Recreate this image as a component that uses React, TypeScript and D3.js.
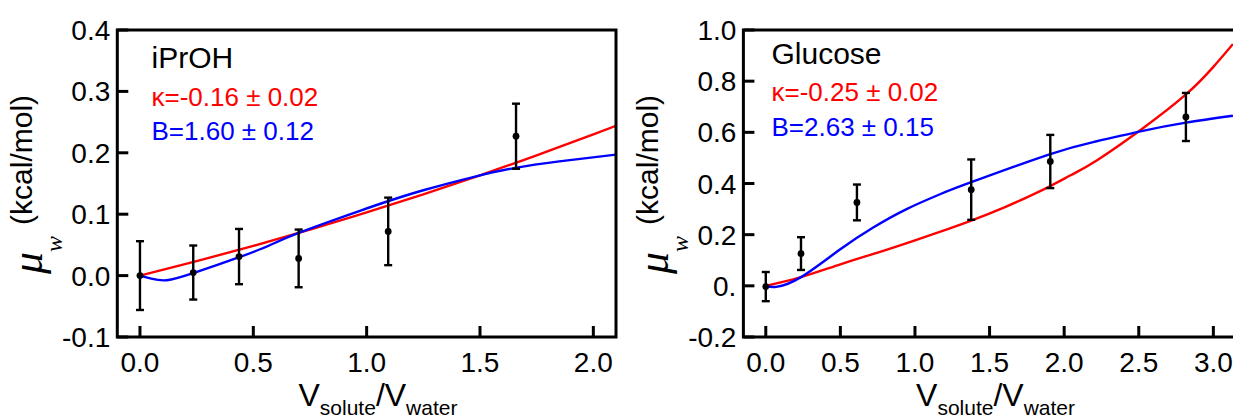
import React, { useEffect, useRef } from 'react';
import * as d3 from 'd3';

// ---- iPrOH panel ----
const iprohPtX = [0, 0.235, 0.437, 0.70, 1.095, 1.659];
const iprohPtY = [0.0, 0.005, 0.031, 0.028, 0.072, 0.227];
const iprohErr = [0.056, 0.044, 0.045, 0.047, 0.055, 0.053];

const iprohRedX = [0, 0.25, 0.5, 0.75, 1.0, 1.25, 1.5, 1.75, 2.0, 2.1];
const iprohRedY = [0, 0.0235, 0.0484, 0.0749, 0.103, 0.1324, 0.1634, 0.1959, 0.230, 0.244];

const iprohBlueX = [0, 0.05, 0.118, 0.238, 0.438, 0.57, 0.70, 0.97, 1.097, 1.25, 1.47, 1.656, 1.85, 2.1];
const iprohBlueY = [0, -0.005, -0.0076, 0.0043, 0.030, 0.049, 0.0695, 0.1055, 0.1215, 0.139, 0.1605, 0.1755, 0.186, 0.197];

const iprohXTicks = [0, 0.5, 1.0, 1.5, 2.0];
const iprohYTicks = [-0.1, 0.0, 0.1, 0.2, 0.3, 0.4];

// ---- Glucose panel ----
const glucPtX = [0, 0.236, 0.611, 1.377, 1.907, 2.816];
const glucPtY = [-0.003, 0.126, 0.326, 0.376, 0.486, 0.660];
const glucErr = [0.057, 0.064, 0.070, 0.118, 0.104, 0.094];

const glucRedX = [0, 0.236, 0.5, 0.75, 1.0, 1.2, 1.377, 1.6, 1.75, 1.907, 2.05, 2.218, 2.519, 2.816, 3.0, 3.131];
const glucRedY = [0, 0.034, 0.084, 0.130, 0.178, 0.218, 0.255, 0.307, 0.346, 0.390, 0.434, 0.490, 0.612, 0.748, 0.856, 0.945];

const glucBlueX = [0, 0.07, 0.236, 0.497, 0.72, 0.944, 1.168, 1.377, 1.907, 2.218, 2.519, 2.816, 3.131];
const glucBlueY = [0, -0.004, 0.034, 0.142, 0.228, 0.300, 0.358, 0.405, 0.515, 0.565, 0.605, 0.638, 0.665];

const glucXTicks = [0, 0.5, 1.0, 1.5, 2.0, 2.5, 3.0];
const glucYTicks = [-0.2, 0.0, 0.2, 0.4, 0.6, 0.8, 1.0];

const SANS = "'Liberation Sans', Arial, sans-serif";
const SERIF = "'Liberation Serif', 'Times New Roman', serif";

const fmt1 = t => d3.format('.1f')(t).replace('\u2212', '-');

function drawPanel(svg, o) {
  const x = d3.scaleLinear().domain(o.xDomain).range(o.xRange);
  const y = d3.scaleLinear().domain(o.yDomain).range([337, 30]);
  const [x0, x1] = o.xRange;
  const g = svg.append('g');

  g.append('clipPath').attr('id', o.id + '-clip')
    .append('rect')
    .attr('x', x0).attr('y', 30)
    .attr('width', x1 - x0).attr('height', 307);

  const line = d3.line()
    .x(d => x(d[0]))
    .y(d => y(d[1]))
    .curve(d3.curveNatural);

  const curves = [
    { xs: o.redX, ys: o.redY, color: '#ff0000' },
    { xs: o.blueX, ys: o.blueY, color: '#0000ff' },
  ];
  curves.forEach(c => {
    g.append('path')
      .datum(c.xs.map((v, i) => [v, c.ys[i]]))
      .attr('clip-path', `url(#${o.id}-clip)`)
      .attr('fill', 'none')
      .attr('stroke', c.color)
      .attr('stroke-width', 2.4)
      .attr('d', line);
  });

  // error bars + points
  const pts = o.ptX.map((v, i) => ({ x: v, y: o.ptY[i], e: o.err[i] }));
  const eb = g.append('g').attr('stroke', '#000').attr('stroke-width', 2.4);
  pts.forEach(p => {
    eb.append('line')
      .attr('x1', x(p.x)).attr('x2', x(p.x))
      .attr('y1', y(p.y - p.e)).attr('y2', y(p.y + p.e));
    [p.y - p.e, p.y + p.e].forEach(v => {
      eb.append('line')
        .attr('x1', x(p.x) - 4).attr('x2', x(p.x) + 4)
        .attr('y1', y(v)).attr('y2', y(v));
    });
  });
  g.selectAll('circle.pt')
    .data(pts)
    .enter()
    .append('circle')
    .attr('class', 'pt')
    .attr('cx', d => x(d.x))
    .attr('cy', d => y(d.y))
    .attr('r', 3.4)
    .attr('fill', '#000');

  // frame
  g.append('rect')
    .attr('x', x0).attr('y', 30)
    .attr('width', x1 - x0).attr('height', 307)
    .attr('fill', 'none')
    .attr('stroke', '#000')
    .attr('stroke-width', 3);

  // ticks (inward)
  o.yTicks.forEach(t => {
    g.append('line')
      .attr('x1', x0).attr('x2', x0 + 11)
      .attr('y1', y(t)).attr('y2', y(t))
      .attr('stroke', '#000').attr('stroke-width', 3);
    g.append('text')
      .attr('x', x0 - 7)
      .attr('y', y(t))
      .attr('dy', '0.36em')
      .attr('text-anchor', 'end')
      .attr('font-family', SANS)
      .attr('font-size', 28)
      .text(o.yFormat(t));
  });
  o.xTicks.forEach(t => {
    g.append('line')
      .attr('x1', x(t)).attr('x2', x(t))
      .attr('y1', 337).attr('y2', 326)
      .attr('stroke', '#000').attr('stroke-width', 3);
    g.append('text')
      .attr('x', x(t))
      .attr('y', 372)
      .attr('text-anchor', 'middle')
      .attr('font-family', SANS)
      .attr('font-size', 28)
      .text(fmt1(t));
  });

  // annotations
  const ann = [
    { t: o.name, c: '#000', s: 30 },
    { t: o.kappa, c: '#ff0000', s: 26 },
    { t: o.bText, c: '#0000ff', s: 26 },
  ];
  ann.forEach((a, i) => {
    g.append('text')
      .attr('x', o.annX)
      .attr('y', o.annY[i])
      .attr('font-family', SANS)
      .attr('font-size', a.s)
      .attr('fill', a.c)
      .text(a.t);
  });

  // y label
  const yl = g.append('text')
    .attr('transform', `translate(${x0 - 75},${(30 + 337) / 2 + 1}) rotate(-90)`)
    .attr('text-anchor', 'middle')
    .attr('font-family', SANS)
    .attr('font-size', 30);
  yl.append('tspan')
    .attr('font-family', SERIF)
    .attr('font-style', 'italic')
    .attr('font-size', 44)
    .text('μ');
  yl.append('tspan')
    .attr('font-family', SERIF)
    .attr('font-style', 'italic')
    .attr('font-size', 24)
    .attr('dy', 20)
    .text('w');
  yl.append('tspan')
    .attr('dy', -30)
    .attr('dx', 11)
    .text('(kcal/mol)');

  // x label
  const xl = g.append('text')
    .attr('x', x(o.xLabelAt))
    .attr('y', 406)
    .attr('text-anchor', 'middle')
    .attr('font-family', SANS)
    .attr('font-size', 32);
  xl.append('tspan').text('V');
  xl.append('tspan').attr('font-size', 21).attr('dy', 9).text('solute');
  xl.append('tspan').attr('dy', -9).text('/V');
  xl.append('tspan').attr('font-size', 21).attr('dy', 9).text('water');
}

export default function App() {
  const svgRef = useRef(null);

  useEffect(() => {
    const svg = d3.select(svgRef.current);
    svg.selectAll('*').remove();

    drawPanel(svg, {
      id: 'iproh',
      xDomain: [-0.1, 2.1],
      xRange: [117.3, 616],
      yDomain: [-0.1, 0.4],
      ptX: iprohPtX, ptY: iprohPtY, err: iprohErr,
      redX: iprohRedX, redY: iprohRedY,
      blueX: iprohBlueX, blueY: iprohBlueY,
      xTicks: iprohXTicks, yTicks: iprohYTicks,
      yFormat: fmt1,
      name: 'iPrOH',
      kappa: 'κ=-0.16 ± 0.02',
      bText: 'B=1.60 ± 0.12',
      annX: 151.5,
      annY: [67.5, 106, 140],
      xLabelAt: 1.05,
    });

    drawPanel(svg, {
      id: 'gluc',
      xDomain: [-0.15, 3.2],
      xRange: [743.4, 1243.2],
      yDomain: [-0.2, 1.0],
      ptX: glucPtX, ptY: glucPtY, err: glucErr,
      redX: glucRedX, redY: glucRedY,
      blueX: glucBlueX, blueY: glucBlueY,
      xTicks: glucXTicks, yTicks: glucYTicks,
      yFormat: t => (t === 0 ? '0.' : fmt1(t)),
      name: 'Glucose',
      kappa: 'κ=-0.25 ± 0.02',
      bText: 'B=2.63 ± 0.15',
      annX: 771.5,
      annY: [63.5, 101, 136],
      xLabelAt: 1.54,
    });
  }, []);

  return (
    <svg
      ref={svgRef}
      width={1233}
      height={418}
      style={{ position: 'absolute', left: 0, top: 0, background: '#fff' }}
    />
  );
}
